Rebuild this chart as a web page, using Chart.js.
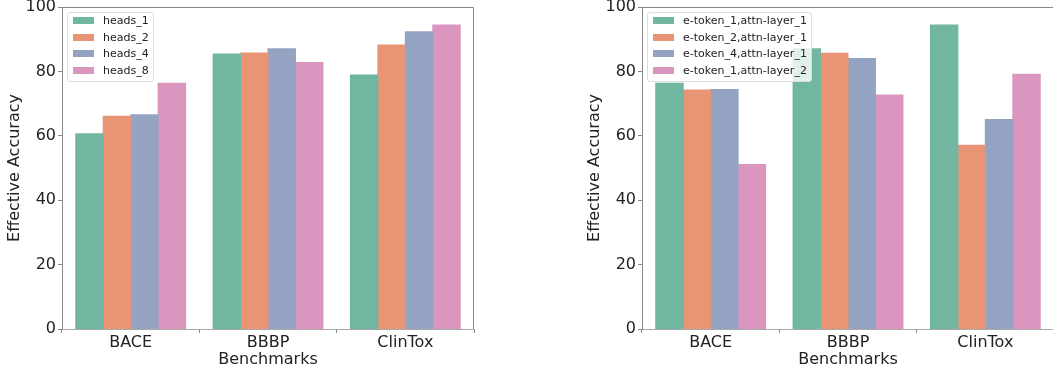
<!DOCTYPE html>
<html>
<head>
<meta charset="utf-8">
<script src="https://cdn.jsdelivr.net/npm/chart.js@4.4.1/dist/chart.umd.min.js"></script>
<style>
  html, body { margin: 0; padding: 0; background: #fff; overflow: hidden; }
  body { width: 1053px; height: 372px; position: relative; font-family: "DejaVu Sans", sans-serif; }
  .panel { position: absolute; top: 0; width: 480px; height: 372px; }
  .legend {
    position: absolute; top: 12px; left: 67px;
    background: rgba(255,255,255,0.8); border: 1px solid #ddd; border-radius: 3px;
    padding: 0px 4px 2px 5px; font-size: 11px; color: #222;
  }
  .legend div { height: 16.5px; line-height: 16.5px; white-space: nowrap; }
  .legend span { display: inline-block; width: 21px; height: 7px; margin-right: 9px; vertical-align: 0px; }
</style>
</head>
<body>
<div class="panel" style="left:0px"><canvas id="cnvHeads"></canvas><div class="legend" id="lgHeads"></div></div>
<div class="panel" style="left:580px"><canvas id="cnvTokens"></canvas><div class="legend" id="lgTokens"></div></div>
<script>
const categories = ['BACE', 'BBBP', 'ClinTox']
const yTicks = [0, 20, 40, 60, 80, 100]

const headsLabels = ['heads_1', 'heads_2', 'heads_4', 'heads_8']
const heads1 = [60.6, 85.4, 78.9]
const heads2 = [66.1, 85.7, 88.2]
const heads4 = [66.5, 87.0, 92.3]
const heads8 = [76.3, 82.8, 94.4]

const tokenLabels = ['e-token_1,attn-layer_1', 'e-token_2,attn-layer_1', 'e-token_4,attn-layer_1', 'e-token_1,attn-layer_2']
const tok1Layer1 = [76.3, 87.0, 94.4]
const tok2Layer1 = [74.2, 85.6, 57.1]
const tok4Layer1 = [74.4, 84.0, 65.1]
const tok1Layer2 = [51.1, 72.7, 79.1]

const colors = ['#71b6a1', '#e99575', '#95a3c3', '#db96c0']
const font = 'DejaVu Sans'

// top and right spines, like matplotlib
const frame = {
  id: 'frame',
  afterDatasetsDraw(chart) {
    let a = chart.chartArea
    let ctx = chart.ctx
    ctx.save()
    ctx.strokeStyle = '#888'
    ctx.lineWidth = 1
    ctx.beginPath()
    ctx.moveTo(a.left, a.top + 0.5)
    ctx.lineTo(a.right - 0.5, a.top + 0.5)
    ctx.lineTo(a.right - 0.5, a.bottom)
    ctx.stroke()
    ctx.restore()
  }
}

function makeChart(id, labels, series) {
  let ctx = document.getElementById(id).getContext('2d')
  return new Chart(ctx, {
    type: 'bar',
    data: {
      labels: categories,
      datasets: series.map((s, i) => ({
        label: labels[i],
        data: s,
        backgroundColor: colors[i],
        borderWidth: 0,
        inflateAmount: 0.5,
        categoryPercentage: 0.8,
        barPercentage: 1.0,
      })),
    },
    options: {
      responsive: true,
      maintainAspectRatio: false,
      animation: false,
      layout: { padding: { top: 7, right: 6, left: 0, bottom: 0 } },
      plugins: { legend: { display: false }, tooltip: { enabled: false } },
      scales: {
        x: {
          grid: { drawOnChartArea: false, tickLength: 4, color: '#888' },
          border: { color: '#aaa' },
          ticks: { color: '#222', font: { family: font, size: 16 }, padding: 0 },
          title: { display: true, text: 'Benchmarks', color: '#222', font: { family: font, size: 16 }, padding: { top: 0, bottom: 3 } },
          afterFit: (s) => { s.height = 43; s.paddingLeft = 0; s.paddingRight = 0 },
        },
        y: {
          min: 0,
          max: 100,
          afterBuildTicks: (s) => { s.ticks = yTicks.map((v) => ({ value: v })) },
          grid: { drawOnChartArea: false, tickLength: 4, color: '#888' },
          border: { color: '#888' },
          ticks: { color: '#222', font: { family: font, size: 16 }, padding: 2 },
          title: { display: true, text: 'Effective Accuracy', color: '#222', font: { family: font, size: 16 }, padding: { top: 5, bottom: 0 } },
          afterFit: (s) => { s.width = 62; s.paddingTop = 0; s.paddingBottom = 0 },
        },
      },
    },
    plugins: [frame],
  })
}

function makeLegend(id, labels) {
  let box = document.getElementById(id)
  labels.forEach((l, i) => {
    let row = document.createElement('div')
    let sw = document.createElement('span')
    sw.style.background = colors[i]
    row.appendChild(sw)
    row.appendChild(document.createTextNode(l))
    box.appendChild(row)
  })
}

makeChart('cnvHeads', headsLabels, [heads1, heads2, heads4, heads8])
makeChart('cnvTokens', tokenLabels, [tok1Layer1, tok2Layer1, tok4Layer1, tok1Layer2])
makeLegend('lgHeads', headsLabels)
makeLegend('lgTokens', tokenLabels)
</script>
</body>
</html>
